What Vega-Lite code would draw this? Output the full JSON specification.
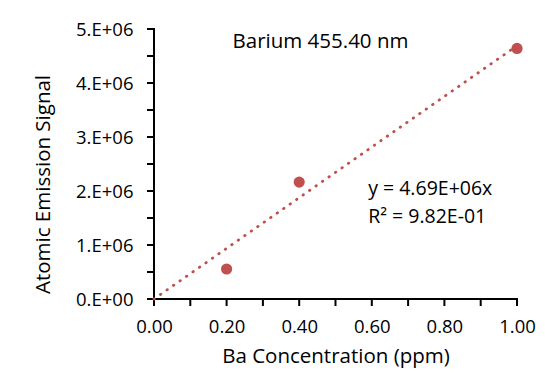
{
  "$schema": "https://vega.github.io/schema/vega-lite/v6.json",
  "autosize": {"type": "none"},
  "width": 363,
  "height": 270,
  "padding": {"left": 154, "top": 29, "right": 28, "bottom": 74},
  "background": "white",
  "datasets": {
    "frame": [{"x": 0, "y": 5000000, "i": 0}, {"x": 0, "y": 0, "i": 1}, {"x": 1, "y": 0, "i": 2}],
    "xticks": [{"v": 0}, {"v": 0.1}, {"v": 0.2}, {"v": 0.3}, {"v": 0.4}, {"v": 0.5}, {"v": 0.6}, {"v": 0.7}, {"v": 0.8}, {"v": 0.9}, {"v": 1.0}],
    "yticks": [{"v": 0}, {"v": 500000}, {"v": 1000000}, {"v": 1500000}, {"v": 2000000}, {"v": 2500000}, {"v": 3000000}, {"v": 3500000}, {"v": 4000000}, {"v": 4500000}, {"v": 5000000}]
  },
  "config": {
    "font": "Open Sans",
    "view": {"stroke": null},
    "axis": {"grid": false, "domain": false, "ticks": false, "labelFlush": false, "labelOverlap": false, "labelColor": "#000000", "titleColor": "#000000", "labelFont": "Open Sans", "titleFont": "Open Sans", "titleFontWeight": "normal", "labelFontSize": 18.5, "titleFontSize": 20.5}
  },
  "title": {"text": "Barium 455.40 nm", "font": "Open Sans", "fontSize": 20.5, "fontWeight": "normal", "color": "#000000", "anchor": "middle", "baseline": "alphabetic", "dx": -15, "dy": 52},
  "layer": [
    {
      "data": {"name": "frame"},
      "mark": {"type": "line", "color": "#000000", "strokeWidth": 2, "strokeCap": "square", "clip": false, "opacity": 1},
      "encoding": {
        "x": {"field": "x", "type": "quantitative", "scale": {"domain": [0, 1], "nice": false},
          "axis": {"title": "Ba Concentration (ppm)", "values": [0, 0.2, 0.4, 0.6, 0.8, 1.0], "format": ".2f", "labelPadding": 18, "titlePadding": 11}},
        "y": {"field": "y", "type": "quantitative", "scale": {"domain": [0, 5000000], "nice": false},
          "axis": {"title": "Atomic Emission Signal", "values": [0, 1000000, 2000000, 3000000, 4000000, 5000000], "labelExpr": "datum.value==0 ? '0.E+00' : format(datum.value/1000000, 'd') + '.E+06'", "labelPadding": 21, "titlePadding": 22, "titleY": 155}},
        "order": {"field": "i", "type": "quantitative"}
      }
    },
    {
      "data": {"name": "xticks"},
      "mark": {"type": "tick", "orient": "vertical", "color": "#000000", "opacity": 1, "size": 7, "thickness": 2, "yOffset": 3.5},
      "encoding": {
        "x": {"field": "v", "type": "quantitative"},
        "y": {"datum": 0, "type": "quantitative"}
      }
    },
    {
      "data": {"name": "yticks"},
      "mark": {"type": "tick", "orient": "horizontal", "color": "#000000", "opacity": 1, "size": 7, "thickness": 2, "xOffset": -3.5},
      "encoding": {
        "y": {"field": "v", "type": "quantitative"},
        "x": {"datum": 0, "type": "quantitative"}
      }
    },
    {
      "data": {"values": [{"conc": 0, "fit": 0}, {"conc": 1, "fit": 4690000}]},
      "mark": {"type": "line", "color": "#C0504D", "strokeWidth": 2.8, "strokeDash": [0.5, 7.4], "strokeCap": "round"},
      "encoding": {
        "x": {"field": "conc", "type": "quantitative"},
        "y": {"field": "fit", "type": "quantitative"}
      }
    },
    {
      "data": {"values": [{"conc": 0.2, "signal": 556000}, {"conc": 0.4, "signal": 2165000}, {"conc": 1.0, "signal": 4640000}]},
      "mark": {"type": "point", "filled": true, "opacity": 1, "color": "#C0504D", "size": 125},
      "encoding": {
        "x": {"field": "conc", "type": "quantitative"},
        "y": {"field": "signal", "type": "quantitative"}
      }
    },
    {
      "data": {"values": [{"label": "fit"}]},
      "mark": {"type": "text", "align": "left", "baseline": "alphabetic", "font": "Open Sans", "fontSize": 19.5, "color": "#000000", "lineHeight": 28},
      "encoding": {
        "x": {"datum": 0.59, "type": "quantitative"},
        "y": {"datum": 1930000, "type": "quantitative"},
        "text": {"value": ["y = 4.69E+06x", "R² = 9.82E-01"]}
      }
    }
  ]
}
